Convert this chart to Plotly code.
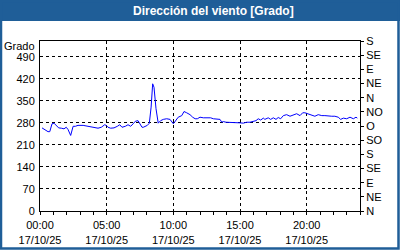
import plotly.graph_objects as go

# ---- data ----
times = ["00:09","00:21","00:36","00:44","00:54","01:03","01:13","01:24","01:36","01:48",
         "01:58","02:06","02:18","02:29","02:39","02:51","03:14","03:36","03:51","04:06",
         "04:21","04:36","04:51","04:58","05:06","05:18","05:33","05:48","05:59","06:09",
         "06:24","06:36","06:48","06:59","07:09","07:21","07:29","07:39","07:45","08:03",
         "08:12","08:20","08:27","08:33","08:42","08:52","09:03","09:15","09:30","09:45",
         "10:00","10:12","10:22","10:38","10:48","11:00","11:15","11:27","11:38","11:48",
         "12:00","12:15","12:30","12:48","13:00","13:18","13:30","13:38","13:45","13:57",
         "14:12","14:30","14:45","15:00","15:15","15:30","15:45","16:00","16:12","16:22",
         "16:33","16:45","16:52","17:07","17:18","17:30","17:42","17:52","18:03","18:15",
         "18:30","18:45","19:00","19:15","19:30","19:42","19:52","20:07","20:23","20:37",
         "20:52","21:08","21:22","21:37","21:53","22:07","22:22","22:33","22:45","23:00",
         "23:15","23:30","23:42","23:48"]
direction = [264,258,252,252,277,279,272,264,263,261,
             266,259,240,269,269,272,272,269,268,264,
             263,266,274,272,266,263,264,269,274,266,
             269,274,269,277,285,287,277,266,266,272,
             279,330,404,393,325,279,287,291,293,291,
             277,287,298,303,316,312,306,298,293,293,
             298,296,296,296,293,291,291,282,284,282,
             282,282,280,280,279,282,282,284,287,293,
             289,295,291,296,291,296,291,297,293,303,
             306,301,306,309,303,312,312,309,306,301,
             306,303,303,301,301,301,298,291,295,293,
             298,293,298,295]
day = "2025-10-17"
left_ticks = [0, 70, 140, 210, 280, 350, 420, 490]
right_ticks = [0, 45, 90, 135, 180, 225, 270, 315, 360, 405, 450, 495, 540]
right_labels = ["N", "NE", "E", "SE", "S", "SO", "O", "NO", "N", "NE", "E", "SE", "S"]
title_text = "Dirección del viento [Grado]"
unit_label = "Grado"

# ---- layout geometry ----
W, H = 400, 250
ML, MR, MT, MB = 40, 40, 41, 39
PW, PH = W - ML - MR, H - MT - MB
BLUE = "#1f5e98"
FONT = "Liberation Sans, Arial, sans-serif"

def px_x(p):
    return (p - ML) / PW

def px_y(p):
    return (H - MB - p) / PH

x_vals = [f"{day} {t}" for t in times]

fig = go.Figure()
fig.add_trace(go.Scatter(x=x_vals, y=direction, mode="lines",
                         line=dict(color="#0000ff", width=1), showlegend=False,
                         hoverinfo="skip"))
# invisible trace for right axis
fig.add_trace(go.Scatter(x=[x_vals[0]], y=[0], yaxis="y2", mode="markers",
                         marker=dict(opacity=0), showlegend=False, hoverinfo="skip"))

fig.update_layout(
    width=W, height=H,
    margin=dict(l=ML, r=MR, t=MT, b=MB, pad=0, autoexpand=False),
    paper_bgcolor="white", plot_bgcolor="white",
    font=dict(family=FONT, size=11, color="#000000"),
    xaxis=dict(
        type="date", automargin=False,
        range=[f"{day} 00:00", "2025-10-18 00:00"],
        tick0=f"{day} 00:00", dtick=5 * 3600 * 1000,
        tickformat="%H:%M<br>%d/%m/%y",
        ticks="outside", ticklen=3, tickcolor="black",
        ticklabelstandoff=1,
        showgrid=True, gridcolor="black", griddash="3px,3px", gridwidth=1,
        minor=dict(dtick=3600 * 1000, ticks="outside", ticklen=3, tickcolor="black",
                   showgrid=False),
        showline=True, linecolor="black", linewidth=1, mirror=True,
        zeroline=False, fixedrange=True,
        tickfont=dict(family=FONT, size=11, color="#000000"),
    ),
    yaxis=dict(
        range=[0, 540], tickvals=left_ticks, automargin=False,
        ticks="", showgrid=True, gridcolor="black", griddash="3px,3px", gridwidth=1,
        showline=True, linecolor="black", linewidth=1, mirror=True,
        zeroline=False, ticklabelstandoff=2,
        tickfont=dict(family=FONT, size=11, color="#000000"),
    ),
    yaxis2=dict(
        range=[0, 540], overlaying="y", side="right", automargin=False,
        tickvals=right_ticks, ticktext=right_labels,
        ticks="outside", ticklen=3, tickcolor="black",
        showgrid=False, zeroline=False, showline=False,
        tickfont=dict(family=FONT, size=11, color="#000000"),
    ),
    shapes=[
        dict(type="rect", xref="paper", yref="paper",
             x0=px_x(0), x1=px_x(W), y0=px_y(21), y1=px_y(0),
             fillcolor=BLUE, line=dict(width=0), layer="below"),
        dict(type="rect", xref="paper", yref="paper",
             x0=px_x(1), x1=px_x(W - 1.5), y0=px_y(H - 1.5), y1=px_y(1),
             fillcolor="rgba(0,0,0,0)", line=dict(color=BLUE, width=2.5)),
    ],
    annotations=[
        dict(text=f"<b>{title_text}</b>", xref="paper", yref="paper",
             x=px_x(213), y=px_y(11), xanchor="center", yanchor="middle",
             showarrow=False, font=dict(family=FONT, size=12, color="white")),
        dict(text=unit_label, xref="paper", yref="paper",
             x=px_x(37), y=px_y(46), xanchor="right", yanchor="middle",
             showarrow=False, font=dict(family=FONT, size=11, color="black")),
    ],
)

fig.write_html("out.html")
